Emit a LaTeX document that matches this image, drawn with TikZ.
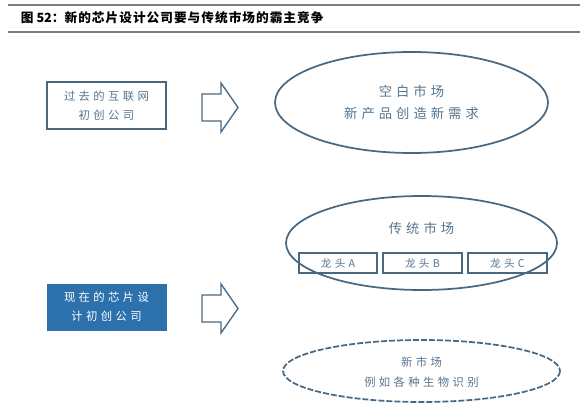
\documentclass[tikz,border=0pt]{standalone}
\usepackage{fontspec}
\setmainfont{Noto Sans CJK SC}
\newfontfamily\cjk[LetterSpace=30]{Noto Sans CJK SC}
\newfontfamily\cjktitle[LetterSpace=8]{Noto Sans CJK SC}
\definecolor{edgeblue}{RGB}{72,104,130}
\definecolor{textblue}{RGB}{86,116,142}
\definecolor{fillblue}{RGB}{44,112,172}
\definecolor{rulegray}{RGB}{125,125,125}
\tikzset{every picture/.style={line width=0.75pt}}

\begin{document}
\begin{tikzpicture}[x=0.75pt,y=0.75pt,yscale=-1,xscale=1]
\useasboundingbox (0,0) rectangle (580,417);

%Straight Lines [id:title rules]
\draw [color=rulegray, line width=1.6]  (8,5) -- (580,5) ;
\draw [color=rulegray, line width=1.6]  (8,32) -- (580,32) ;

%Shape: Rectangle [id:oldbox]
\draw [color=edgeblue, line width=1.2]  (47,82) -- (166,82) -- (166,129) -- (47,129) -- cycle ;
%Shape: Rectangle [id:newbox]
\draw [color=fillblue, fill=fillblue]  (47,284) -- (166,284) -- (166,330) -- (47,330) -- cycle ;
%Shape: Right Arrow [id:upperarrow]
\draw [color=edgeblue, line width=1]  (202,94) -- (221,94) -- (221,83) -- (238,107.5) -- (221,132) -- (221,121) -- (202,121) -- cycle ;
%Shape: Right Arrow [id:lowerarrow]
\draw [color=edgeblue, line width=1]  (202,295) -- (221,295) -- (221,284) -- (238,308.5) -- (221,333) -- (221,322) -- (202,322) -- cycle ;
%Shape: Ellipse [id:blankmarket]
\draw [color=edgeblue, line width=1.3]  (411.5,102.5) ellipse (136.5 and 50.5) ;
%Shape: Ellipse [id:oldmarket]
\draw [color=edgeblue, line width=1.3]  (421.5,243) ellipse (135.5 and 47) ;
%Shape: Ellipse [id:newmarket]
\draw [color=edgeblue, line width=1.3, dash pattern={on 4.5pt off 1.5pt}]  (421.5,371) ellipse (138.5 and 31) ;
%Shape: Rectangle [id:leaderA]
\draw [color=edgeblue, line width=1]  (299,253) -- (377,253) -- (377,273) -- (299,273) -- cycle ;
%Shape: Rectangle [id:leaderB]
\draw [color=edgeblue, line width=1]  (383,253) -- (462,253) -- (462,273) -- (383,273) -- cycle ;
%Shape: Rectangle [id:leaderC]
\draw [color=edgeblue, line width=1]  (468,253) -- (547,253) -- (547,273) -- (468,273) -- cycle ;

% Text Node
\draw (16,18) node [anchor=west] (title) {\fontsize{9.5}{11}\selectfont\bfseries 图\ 52：\cjktitle 新的芯片设计公司要与传统市场的霸主竞争};
% Text Node
\draw (106.5,105.5) node [align=center, text=textblue, font=\cjk\fontsize{8.5}{14}\selectfont] (oldtxt) {过去的互联网\\初创公司};
% Text Node
\draw (106.5,307) node [align=center, text=white, font=\cjk\fontsize{8.5}{14}\selectfont] (newtxt) {现在的芯片设\\计初创公司};
% Text Node
\draw (411.5,102.5) node [align=center, text=textblue, font=\cjk\fontsize{10}{16}\selectfont] (blanktxt) {空白市场\\新产品创造新需求};
% Text Node
\draw (421.5,228) node [text=textblue, font=\cjk\fontsize{10}{12}\selectfont] (oldmkttxt) {传统市场};
% Text Node
\draw (338,263) node [text=textblue, font=\cjk\fontsize{8}{10}\selectfont] (atxt) {龙头A};
% Text Node
\draw (422.5,263) node [text=textblue, font=\cjk\fontsize{8}{10}\selectfont] (btxt) {龙头B};
% Text Node
\draw (507.5,263) node [text=textblue, font=\cjk\fontsize{8}{10}\selectfont] (ctxt) {龙头C};
% Text Node
\draw (421.5,372) node [align=center, text=textblue, font=\cjk\fontsize{8.5}{15}\selectfont] (newmkttxt) {新市场\\例如各种生物识别};

\end{tikzpicture}
\end{document}
